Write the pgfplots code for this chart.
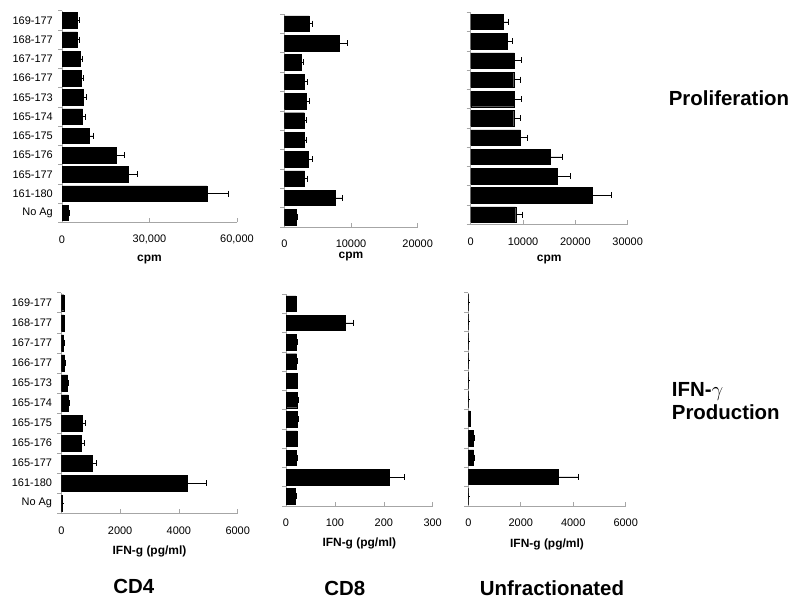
\documentclass[border=0pt]{standalone}
\usepackage{pgfplots}
\pgfplotsset{compat=1.18}
\usepackage{pgfplotstable}
\usepackage{fontspec}
\setmainfont{Liberation Sans}

% columns: c = category index (0 = No Ag ... 10 = 169-177), v = value, e = error (plus)
\pgfplotstableread{
c v e
0 2170 330
1 49700 7300
2 22700 3200
3 18700 2750
4 9470 1330
5 7070 1000
6 7300 900
7 6600 800
8 6150 700
9 5250 550
10 5250 650
}\cdfourprol
\pgfplotstableread{
c v e
0 1800 200
1 7650 1050
2 3050 400
3 3650 500
4 3000 350
5 3000 350
6 3300 450
7 3050 400
8 2500 350
9 8200 1250
10 3750 500
}\cdeightprol
\pgfplotstableread{
c v e
0 8600 1300
1 23250 3690
2 16560 2550
3 15160 2360
4 9490 1400
5 8220 1210
6 8340 1280
7 8220 1270
8 8340 1340
9 6940 1020
10 6300 960
}\unfprol
\pgfplotstableread{
c v e
0 45 5
1 4280 660
2 1040 160
3 670 110
4 700 125
5 240 25
6 215 35
7 110 10
8 80 10
9 90 10
10 90 10
}\cdfourifn
\pgfplotstableread{
c v e
0 19 2
1 211 31
2 20.5 2
3 22 2
4 23 2
5 23 2
6 22 2
7 21.8 2
8 20.5 2
9 121 17
10 20 2
}\cdeightifn
\pgfplotstableread{
c v e
0 15 1
1 3440 760
2 200 40
3 190 40
4 75 5
5 15 1
6 15 1
7 15 1
8 15 1
9 15 1
10 15 1
}\unfifn

\pgfplotsset{
  panel/.style={
    xbar, scale only axis, anchor=south west,
    ymin=-0.5, ymax=10.5, xmin=0,
    axis x line*=bottom, axis y line*=left,
    axis line style={draw=gray!70, line width=0.6bp, -},
    ytick={0,...,10},
    yticklabels={},
    major y tick style={draw=none},
    minor ytick={-0.5,0.5,...,10.5},
    minor y tick style={draw=gray!70, line width=0.6bp, xshift=-4bp},
    minor tick length=4bp,
    major tick length=4bp,
    tick align=inside,
    x tick style={draw=gray!70, line width=0.6bp},
    scaled x ticks=false,
    bar width=0.8,
    xticklabel style={font=\fontsize{11}{13}\selectfont, anchor=center, yshift=-17bp},
    yticklabel style={font=\fontsize{11}{13}\selectfont, anchor=east, inner sep=0pt, xshift=-9bp},
    xlabel style={font=\bfseries\fontsize{12}{14}\selectfont, at={(axis description cs:0.5,0)}, anchor=center},
  },
  cats/.style={
    yticklabels={No Ag,161-180,165-177,165-176,165-175,165-174,165-173,166-177,167-177,168-177,169-177},
  },
  bars/.style={
    fill=black, draw=black, line width=0.4bp,
    error bars/.cd, x dir=plus, x explicit,
    error bar style={black, line width=0.6bp},
    error mark=|,
    error mark options={black, mark size=3bp, line width=0.6bp},
  },
}

\begin{document}
\begin{tikzpicture}
\path[use as bounding box] (0,0) rectangle (800bp,605bp);

% ---- Proliferation row ----
\begin{axis}[panel, cats, at={(62bp,382.5bp)}, width=175bp, height=211.8bp,
  xmax=60000, xtick={0,30000,60000}, xticklabels={0,{30,000},{60,000}},
  xlabel={cpm}, xlabel style={yshift=-37.5bp}]
\addplot[bars] table[x=v, y=c, x error=e] {\cdfourprol};
\end{axis}

\begin{axis}[panel, at={(284.3bp,378bp)}, width=133.4bp, height=213bp,
  xmax=20000, xtick={0,10000,20000}, xticklabels={0,10000,20000},
  xlabel={cpm}, xlabel style={yshift=-29.5bp}]
\addplot[bars] table[x=v, y=c, x error=e] {\cdeightprol};
\end{axis}

\begin{axis}[panel, at={(470.7bp,380.7bp)}, width=157bp, height=212bp,
  xmax=30000, xtick={0,10000,20000,30000}, xticklabels={0,10000,20000,30000},
  xlabel={cpm}, xlabel style={yshift=-35.7bp}]
\addplot[bars] table[x=v, y=c, x error=e] {\unfprol};
\end{axis}

% ---- IFN-gamma row ----
\begin{axis}[panel, cats, at={(61.3bp,91.7bp)}, width=176.4bp, height=220.6bp,
  xmax=6000, xtick={0,2000,4000,6000}, xticklabels={0,2000,4000,6000},
  xlabel={IFN-g (pg/ml)}, xlabel style={yshift=-38.4bp}]
\addplot[bars] table[x=v, y=c, x error=e] {\cdfourifn};
\end{axis}

\begin{axis}[panel, at={(286bp,99bp)}, width=146.7bp, height=212bp,
  xmax=300, xtick={0,100,200,300}, xticklabels={0,100,200,300},
  xlabel={IFN-g (pg/ml)}, xlabel style={yshift=-37bp}]
\addplot[bars] table[x=v, y=c, x error=e] {\cdeightifn};
\end{axis}

\begin{axis}[panel, at={(468.3bp,99bp)}, width=157.4bp, height=213.3bp,
  xmax=6000, xtick={0,2000,4000,6000}, xticklabels={0,2000,4000,6000},
  xlabel={IFN-g (pg/ml)}, xlabel style={yshift=-38.3bp}]
\addplot[bars] table[x=v, y=c, x error=e] {\unfifn};
\end{axis}

% ---- row and column titles ----
\node[font=\bfseries\fontsize{20.5}{24}\selectfont] at (729bp,507bp) {Proliferation};
\node[font=\bfseries\fontsize{20.5}{23.7}\selectfont, anchor=west, align=left, inner sep=0pt]
  at (671.7bp,204bp) {IFN-$\gamma$\\Production};
\node[font=\bfseries\fontsize{20.5}{24}\selectfont] at (133.7bp,18.3bp) {CD4};
\node[font=\bfseries\fontsize{20.5}{24}\selectfont] at (344.7bp,17bp) {CD8};
\node[font=\bfseries\fontsize{20.5}{24}\selectfont] at (552bp,17bp) {Unfractionated};
\end{tikzpicture}
\end{document}
